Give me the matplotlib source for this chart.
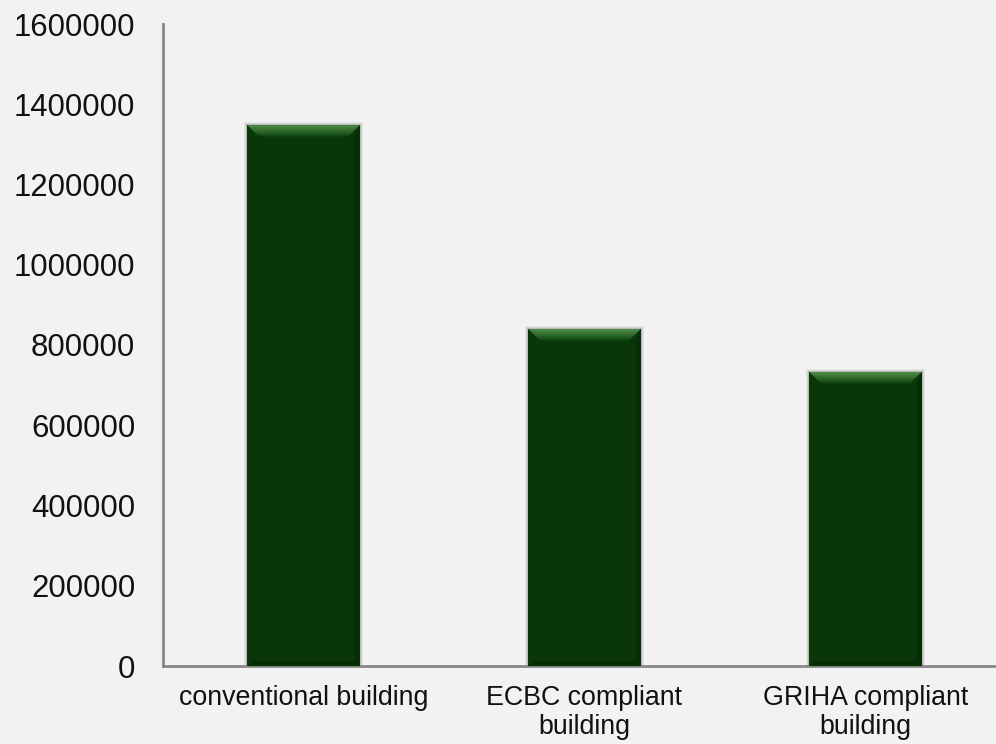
import matplotlib
matplotlib.use("Agg")
import matplotlib.pyplot as plt
import numpy as np
from matplotlib.patches import Polygon, Rectangle

categories = ["conventional building", "ECBC compliant\nbuilding", "GRIHA compliant\nbuilding"]
values = [1348000, 840000, 733000]
yticks = [0, 200000, 400000, 600000, 800000, 1000000, 1200000, 1400000, 1600000]

plt.rcParams['font.family'] = ['Liberation Sans', 'DejaVu Sans']

BG = "#f2f2f2"
BAR = "#093709"
W, H = 996, 744
fig = plt.figure(figsize=(W / 100, H / 100), dpi=100, facecolor=BG)
left, right, bottom, top = 163 / W, 1006 / W, (H - 666) / H, (H - 24) / H
ax = fig.add_axes([left, bottom, right - left, top - bottom], facecolor=BG)

x = np.arange(len(categories))
bw = 0.40
bars = ax.bar(x, values, width=bw, color=BAR, zorder=3)

ax.set_xlim(-0.5, len(categories) - 0.5)
ax.set_ylim(0, 1600000)

# pixel -> data conversion for bevel and shadow details
ax_w_px = (right - left) * W
ax_h_px = (top - bottom) * H
px_x = (len(categories)) / ax_w_px
px_y = 1600000 / ax_h_px

cmap = matplotlib.colors.LinearSegmentedColormap.from_list(
    "bev", ["#0b3d0b", "#2f6a2c", "#4f8c4a"])

for b in bars:
    x0, w, h = b.get_x(), b.get_width(), b.get_height()
    # soft shadow around the bar
    for k, a in [(3, 0.05), (2, 0.08), (1, 0.12)]:
        ax.add_patch(Rectangle((x0 - k * px_x, 0), w + 2 * k * px_x, h + k * px_y,
                               color="black", alpha=a, lw=0, zorder=2))
    # top bevel with vertical gradient
    bv = 12
    trap = Polygon([[x0, h], [x0 + w, h], [x0 + w - bv * px_x, h - bv * px_y],
                    [x0 + bv * px_x, h - bv * px_y]], closed=True,
                   facecolor="none", edgecolor="none", zorder=4)
    ax.add_patch(trap)
    grad = np.linspace(0, 1, 64).reshape(-1, 1)
    im = ax.imshow(grad, cmap=cmap, aspect="auto", origin="lower",
                   extent=[x0, x0 + w, h - bv * px_y, h], zorder=4,
                   interpolation="bilinear")
    im.set_clip_path(trap)
    # darker right and bottom edges
    ax.add_patch(Polygon([[x0 + w, h], [x0 + w, 0], [x0 + w - 5 * px_x, 5 * px_y],
                          [x0 + w - 5 * px_x, h - bv * px_y]], closed=True,
                         facecolor="#052805", edgecolor="none", alpha=0.6, zorder=4))
    ax.add_patch(Polygon([[x0, 0], [x0 + w, 0], [x0 + w - 5 * px_x, 5 * px_y],
                          [x0 + 5 * px_x, 5 * px_y]], closed=True,
                         facecolor="#052805", edgecolor="none", alpha=0.6, zorder=4))

ax.set_xlim(-0.5, len(categories) - 0.5)
ax.set_ylim(0, 1600000)

ax.set_yticks(yticks)
ax.set_yticklabels([str(v) for v in yticks], fontsize=22.4, color="#111111")
ax.set_xticks(x)
ax.set_xticklabels(categories, fontsize=19.3, color="#111111", linespacing=1.12)
ax.tick_params(axis="y", length=0, pad=20)
ax.tick_params(axis="x", length=0, pad=14)

for s in ["top", "right"]:
    ax.spines[s].set_visible(False)
for s in ["left", "bottom"]:
    ax.spines[s].set_color("#888888")
    ax.spines[s].set_linewidth(2)

fig.savefig("out.png", dpi=100, facecolor=BG)
